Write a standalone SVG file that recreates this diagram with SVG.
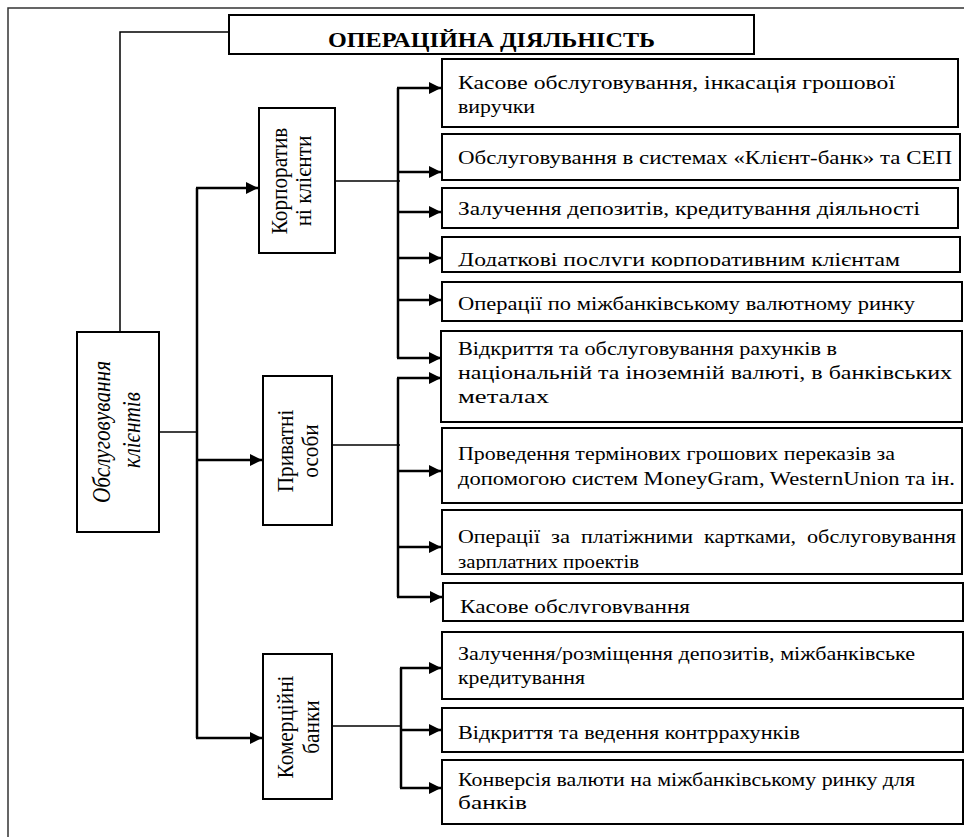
<svg xmlns="http://www.w3.org/2000/svg" width="964" height="837" viewBox="0 0 964 837">
<defs>
<marker id="ah" markerUnits="userSpaceOnUse" markerWidth="13" markerHeight="13" refX="12" refY="6" orient="auto"><path d="M0,0 L12,6 L0,12 z" fill="#000"/></marker>
<clipPath id="c4"><rect x="440" y="230" width="524" height="36.5"/></clipPath>
<clipPath id="c8"><rect x="440" y="505" width="524" height="65"/></clipPath>
<clipPath id="c9"><rect x="440" y="580" width="524" height="34"/></clipPath>
</defs>
<style>
.box{fill:#fff;stroke:#000;stroke-width:2}
.t{font-family:"Liberation Serif","Times New Roman",serif;font-size:19.5px;fill:#000}
.v{font-family:"Liberation Serif","Times New Roman",serif;font-size:21.3px;fill:#000;text-anchor:middle}
.thin{fill:none;stroke:#000;stroke-width:1.5}
.thick{fill:none;stroke:#000;stroke-width:2.5}
.arr{fill:none;stroke:#000;stroke-width:2.5;marker-end:url(#ah)}
</style>
<rect width="964" height="837" fill="#fff"/>
<path d="M8,837 V8 H964" fill="none" stroke="#333" stroke-width="1.5"/>

<g id="connectors">
<path class="thin" d="M229,32 H120 V332"/>
<path class="thin" d="M159,432 H197"/>
<path class="thick" d="M197,188 V738"/>
<line class="arr" x1="196" y1="188" x2="258" y2="188"/>
<line class="arr" x1="196" y1="460" x2="262" y2="460"/>
<line class="arr" x1="196" y1="738" x2="262" y2="738"/>
<path class="thin" d="M335,181 H400"/>
<path class="thick" d="M398,88 V358"/>
<line class="arr" x1="397" y1="88" x2="441" y2="88"/>
<line class="arr" x1="397" y1="172" x2="441" y2="172"/>
<line class="arr" x1="397" y1="212" x2="441" y2="212"/>
<line class="arr" x1="397" y1="258" x2="441" y2="258"/>
<line class="arr" x1="397" y1="300" x2="441" y2="300"/>
<line class="arr" x1="397" y1="358" x2="441" y2="358"/>
<path class="thin" d="M332,445 H400"/>
<path class="thick" d="M398,378 V597"/>
<line class="arr" x1="397" y1="378" x2="441" y2="378"/>
<line class="arr" x1="397" y1="471" x2="441" y2="471"/>
<line class="arr" x1="397" y1="547" x2="441" y2="547"/>
<line class="arr" x1="397" y1="597" x2="442" y2="597"/>
<path class="thin" d="M332,726 H402"/>
<path class="thick" d="M401,668 V788"/>
<line class="arr" x1="400" y1="668" x2="441" y2="668"/>
<line class="arr" x1="400" y1="730" x2="441" y2="730"/>
<line class="arr" x1="400" y1="788" x2="441" y2="788"/>
</g>

<g id="title">
<rect class="box" x="229" y="15" width="525" height="39"/>
<text x="491.5" y="47" font-family="Liberation Serif,Times New Roman,serif" font-size="22" font-weight="bold" text-anchor="middle" textLength="327" lengthAdjust="spacingAndGlyphs">ОПЕРАЦІЙНА ДІЯЛЬНІСТЬ</text>
</g>

<g id="clients">
<rect class="box" x="77" y="332" width="82" height="200"/>
<text class="v" font-size="23.5" font-style="italic" transform="translate(110,432) scale(1.15,1) rotate(-90)">Обслуговування</text>
<text class="v" font-size="23.5" font-style="italic" transform="translate(140,430) scale(1.15,1) rotate(-90)">клієнтів</text>
</g>

<g id="corp">
<rect class="box" x="259" y="108" width="76" height="145"/>
<text class="v" transform="translate(287,181) scale(1.08,1) rotate(-90)">Корпоратив</text>
<text class="v" transform="translate(311,181) scale(1.08,1) rotate(-90)">ні клієнти</text>
</g>

<g id="private">
<rect class="box" x="263" y="376" width="69" height="149"/>
<text class="v" transform="translate(293,451) scale(1.08,1) rotate(-90)">Приватні</text>
<text class="v" transform="translate(318,451) scale(1.08,1) rotate(-90)">особи</text>
</g>

<g id="commercial">
<rect class="box" x="263" y="654" width="69" height="145"/>
<text class="v" transform="translate(293,727) scale(1.08,1) rotate(-90)">Комерційні</text>
<text class="v" transform="translate(319,727) scale(1.08,1) rotate(-90)">банки</text>
</g>

<g id="c1"><rect class="box" x="442" y="59" width="516" height="68"/>
<text class="t"><tspan x="458" y="89" textLength="437" lengthAdjust="spacingAndGlyphs">Касове обслуговування, інкасація грошової</tspan><tspan x="458" y="113" textLength="77" lengthAdjust="spacingAndGlyphs">виручки</tspan></text></g>
<g id="c2"><rect class="box" x="442" y="134" width="518" height="46"/>
<text class="t" x="458" y="164" textLength="494" lengthAdjust="spacingAndGlyphs">Обслуговування в системах «Клієнт-банк» та СЕП</text></g>
<g id="c3"><rect class="box" x="442" y="188" width="516" height="40"/>
<text class="t" x="458" y="215" textLength="462" lengthAdjust="spacingAndGlyphs">Залучення депозитів, кредитування діяльності</text></g>
<g id="c4g"><rect class="box" x="442" y="237" width="518" height="35"/>
<text class="t" x="458" y="266" clip-path="url(#c4)" textLength="442" lengthAdjust="spacingAndGlyphs">Додаткові послуги корпоративним клієнтам</text></g>
<g id="c5"><rect class="box" x="442" y="282" width="520" height="39"/>
<text class="t" x="458" y="310" textLength="457" lengthAdjust="spacingAndGlyphs">Операції по міжбанківському валютному ринку</text></g>
<g id="p1"><rect class="box" x="441" y="331" width="521" height="91"/>
<text class="t"><tspan x="458" y="355" textLength="379" lengthAdjust="spacingAndGlyphs">Відкриття та обслуговування рахунків в</tspan><tspan x="458" y="379" textLength="494" lengthAdjust="spacingAndGlyphs">національній та іноземній валюті, в банківських</tspan><tspan x="458" y="403" textLength="91" lengthAdjust="spacingAndGlyphs">металах</tspan></text></g>
<g id="p2"><rect class="box" x="442" y="428" width="520" height="75"/>
<text class="t"><tspan x="458" y="460" textLength="437" lengthAdjust="spacingAndGlyphs">Проведення термінових грошових переказів за</tspan><tspan x="458" y="485" textLength="497" lengthAdjust="spacingAndGlyphs">допомогою систем MoneyGram, WesternUnion та ін.</tspan></text></g>
<g id="p3"><rect class="box" x="442" y="510" width="520" height="64"/>
<text class="t" clip-path="url(#c8)"><tspan x="458" y="543" textLength="82" lengthAdjust="spacingAndGlyphs">Операції</tspan> <tspan x="551" y="543" textLength="19" lengthAdjust="spacingAndGlyphs">за</tspan> <tspan x="581" y="543" textLength="112" lengthAdjust="spacingAndGlyphs">платіжними</tspan> <tspan x="704" y="543" textLength="92" lengthAdjust="spacingAndGlyphs">картками,</tspan> <tspan x="807" y="543" textLength="149" lengthAdjust="spacingAndGlyphs">обслуговування</tspan><tspan x="458" y="568" textLength="181" lengthAdjust="spacingAndGlyphs">зарплатних проектів</tspan></text></g>
<g id="p4"><rect class="box" x="443" y="583" width="520" height="38"/>
<text class="t" x="460" y="613" clip-path="url(#c9)" textLength="230" lengthAdjust="spacingAndGlyphs">Касове обслуговування</text></g>
<g id="b1"><rect class="box" x="442" y="632" width="521" height="67"/>
<text class="t"><tspan x="458" y="660" textLength="457" lengthAdjust="spacingAndGlyphs">Залучення/розміщення депозитів, міжбанківське</tspan><tspan x="458" y="684" textLength="127" lengthAdjust="spacingAndGlyphs">кредитування</tspan></text></g>
<g id="b2"><rect class="box" x="442" y="708" width="521" height="44"/>
<text class="t" x="458" y="739" textLength="342" lengthAdjust="spacingAndGlyphs">Відкриття та ведення контррахунків</text></g>
<g id="b3"><rect class="box" x="442" y="760" width="521" height="64"/>
<text class="t"><tspan x="458" y="786" textLength="457" lengthAdjust="spacingAndGlyphs">Конверсія валюти на міжбанківському ринку для</tspan><tspan x="458" y="809" textLength="69" lengthAdjust="spacingAndGlyphs">банків</tspan></text></g>
</svg>
